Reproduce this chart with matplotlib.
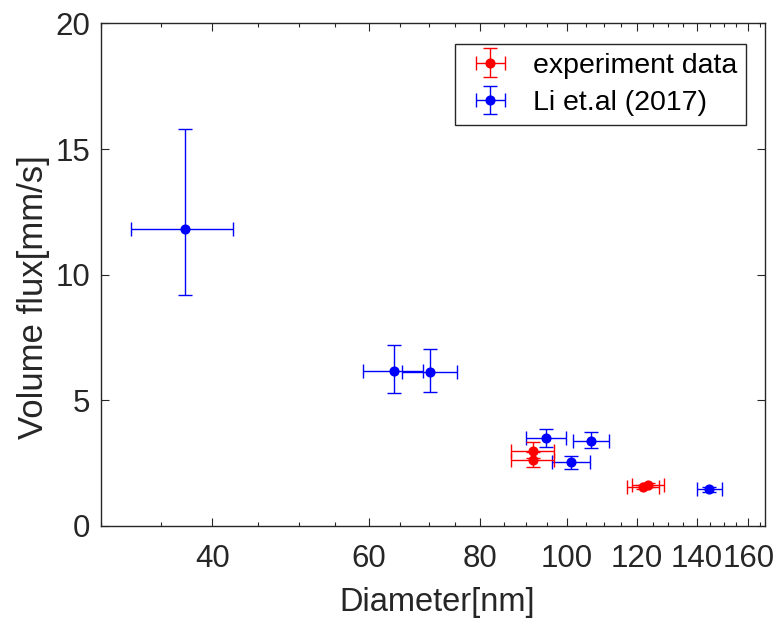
import matplotlib.pyplot as plt
from matplotlib.ticker import FixedLocator, NullFormatter

plt.rcParams['font.family'] = ['Liberation Sans', 'DejaVu Sans']

# experiment data
exp_d = [91.7, 91.7, 121.9, 123.5]
exp_d_err = [5.0, 5.0, 5.0, 5.0]
exp_flux = [2.99, 2.63, 1.55, 1.62]
exp_flux_lo = [0.30, 0.27, 0.08, 0.08]
exp_flux_hi = [0.34, 0.30, 0.08, 0.08]

# Li et.al (2017)
li_d = [37.3, 64.0, 70.3, 94.9, 106.6, 101.2, 144.6]
li_d_err = [4.9, 4.9, 5.0, 4.9, 4.9, 5.0, 4.7]
li_flux = [11.83, 6.15, 6.11, 3.49, 3.39, 2.54, 1.45]
li_flux_lo = [2.63, 0.84, 0.76, 0.35, 0.27, 0.27, 0.10]
li_flux_hi = [3.95, 1.06, 0.94, 0.37, 0.34, 0.26, 0.10]

x_ticks = [40, 60, 80, 100, 120, 140, 160]
x_minor = list(range(30, 170, 5))
y_ticks = [0, 5, 10, 15, 20]

fig = plt.figure(figsize=(7.73, 6.18), dpi=100)
ax = fig.add_axes([0.1307, 0.149, 0.859, 0.813])

ax.errorbar(exp_d, exp_flux, xerr=exp_d_err, yerr=[exp_flux_lo, exp_flux_hi],
            fmt='o', color=(1, 0, 0), ms=6.3, lw=1.0, capsize=4.7, capthick=1.0,
            label='experiment data', zorder=3)
ax.errorbar(li_d, li_flux, xerr=li_d_err, yerr=[li_flux_lo, li_flux_hi],
            fmt='o', color=(0, 0, 1), ms=6.3, lw=1.0, capsize=4.7, capthick=1.0,
            label='Li et.al (2017)', zorder=2)

ax.set_xscale('log')
ax.set_xlim(30, 167)
ax.set_ylim(0, 20)
ax.xaxis.set_major_locator(FixedLocator(x_ticks))
ax.set_xticklabels([str(t) for t in x_ticks])
ax.xaxis.set_minor_locator(FixedLocator(x_minor))
ax.xaxis.set_minor_formatter(NullFormatter())
ax.set_yticks(y_ticks)

grey = (0.15, 0.15, 0.15)
for s in ax.spines.values():
    s.set_color(grey)
    s.set_linewidth(1.0)
ax.tick_params(which='both', direction='in', top=True, right=True,
               color=grey, labelcolor=grey, labelsize=22.5, width=0.8)
ax.tick_params(which='major', length=6)
ax.tick_params(axis='x', which='major', pad=13)
ax.tick_params(axis='y', which='major', pad=8)
ax.tick_params(which='minor', length=3)

ax.set_xlabel('Diameter[nm]', fontsize=23.5, color=grey)
ax.set_ylabel('Volume flux[mm/s]', fontsize=25, color=grey)
ax.xaxis.set_label_coords(0.506, -0.122)
ax.yaxis.set_label_coords(-0.077, 0.456)

leg = ax.legend(loc='upper right', bbox_to_anchor=(0.971, 0.959), borderaxespad=0,
                fontsize=20.5, fancybox=False, framealpha=1, edgecolor=grey,
                handlelength=1.9, handletextpad=0.55, borderpad=0.3, labelspacing=0.4)
leg.get_frame().set_linewidth(1.0)

plt.savefig('out.png', dpi=100)
